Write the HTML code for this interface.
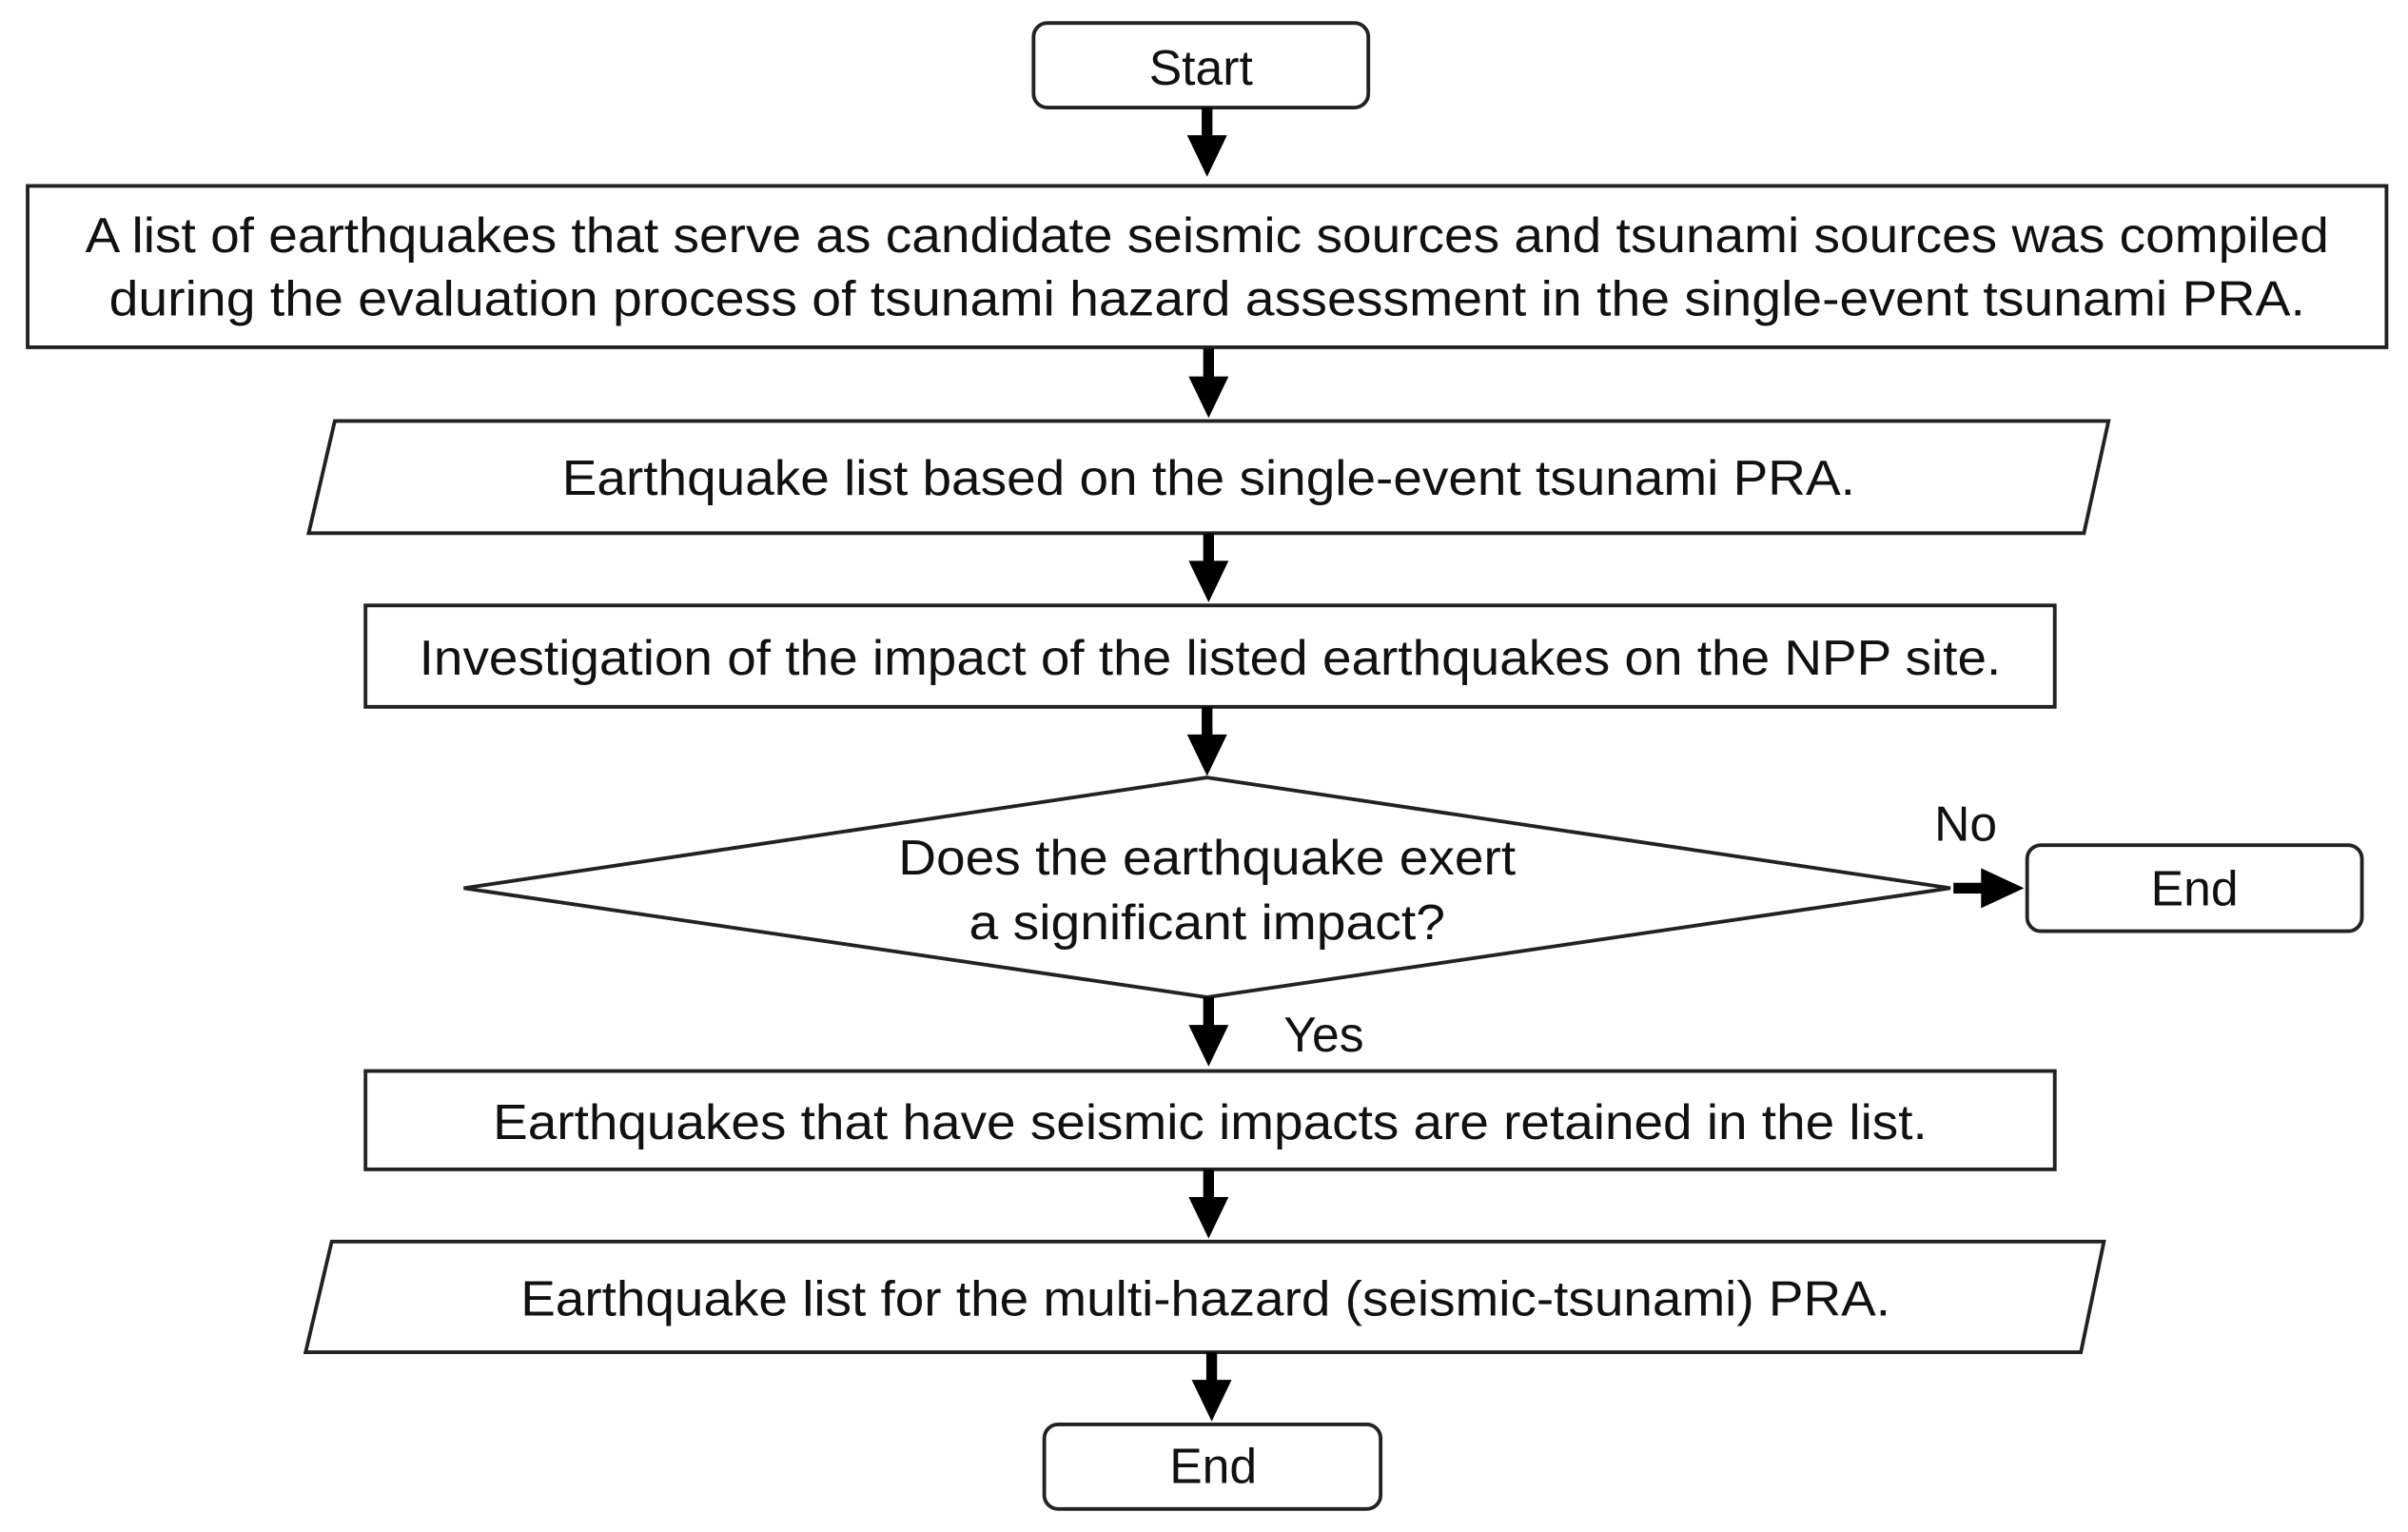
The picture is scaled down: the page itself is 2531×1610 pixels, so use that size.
<!DOCTYPE html>
<html><head><meta charset="utf-8"><style>
html,body{margin:0;padding:0;background:#fff;}
svg{display:block;}
text{font-family:"Liberation Sans",Arial,sans-serif;font-size:32px;fill:#111;text-anchor:middle;dominant-baseline:central;}
</style></head><body>
<svg width="2531" height="1610" viewBox="0 0 1568 997" preserveAspectRatio="none" xmlns="http://www.w3.org/2000/svg">
<defs>
<g id="dn"><rect x="-3.5" y="0" width="7" height="20" fill="#000"/><polygon points="-13,18 13,18 0,45" fill="#000"/></g>
</defs>
<g fill="#fff" stroke="#222" stroke-width="2.4">
<rect x="673" y="15" width="218" height="55" rx="9"/>
<rect x="18" y="121" width="1536" height="105"/>
<polygon points="218,274 1373,274 1357,347 201,347"/>
<rect x="238" y="394" width="1100" height="66"/>
<polygon points="786,506 1270,578 786,649 302,578"/>
<rect x="1320" y="550" width="218" height="56" rx="9"/>
<rect x="238" y="697" width="1100" height="64"/>
<polygon points="216,808 1370,808 1355,880 199,880"/>
<rect x="680" y="927" width="219" height="55" rx="9"/>
</g>
<use href="#dn" x="786" y="70"/>
<use href="#dn" x="787" y="227"/>
<use href="#dn" x="787" y="347"/>
<use href="#dn" x="786" y="460"/>
<use href="#dn" x="787" y="649"/>
<use href="#dn" x="787" y="761"/>
<use href="#dn" x="789" y="880"/>
<rect x="1272" y="574.5" width="20" height="7" fill="#000"/>
<polygon points="1290,565 1318,578 1290,591" fill="#000"/>
<text x="782" y="44">Start</text>
<text x="786" y="153" textLength="1461" lengthAdjust="spacingAndGlyphs">A list of earthquakes that serve as candidate seismic sources and tsunami sources was compiled</text>
<text x="786" y="194" textLength="1430" lengthAdjust="spacingAndGlyphs">during the evaluation process of tsunami hazard assessment in the single-event  tsunami PRA.</text>
<text x="787" y="311" textLength="842" lengthAdjust="spacingAndGlyphs">Earthquake list based on the single-event tsunami PRA.</text>
<text x="788" y="428" textLength="1030" lengthAdjust="spacingAndGlyphs">Investigation of the impact of the listed earthquakes on the NPP site.</text>
<text x="786" y="558" textLength="402" lengthAdjust="spacingAndGlyphs">Does the earthquake exert</text>
<text x="786" y="600" textLength="310" lengthAdjust="spacingAndGlyphs">a significant impact?</text>
<text x="1280" y="536">No</text>
<text x="1429" y="578">End</text>
<text x="862" y="673">Yes</text>
<text x="788" y="730" textLength="934" lengthAdjust="spacingAndGlyphs">Earthquakes that have seismic impacts are retained in the list.</text>
<text x="785" y="845" textLength="892" lengthAdjust="spacingAndGlyphs">Earthquake list for the multi-hazard (seismic-tsunami) PRA.</text>
<text x="790" y="954">End</text>
</svg>
</body></html>
